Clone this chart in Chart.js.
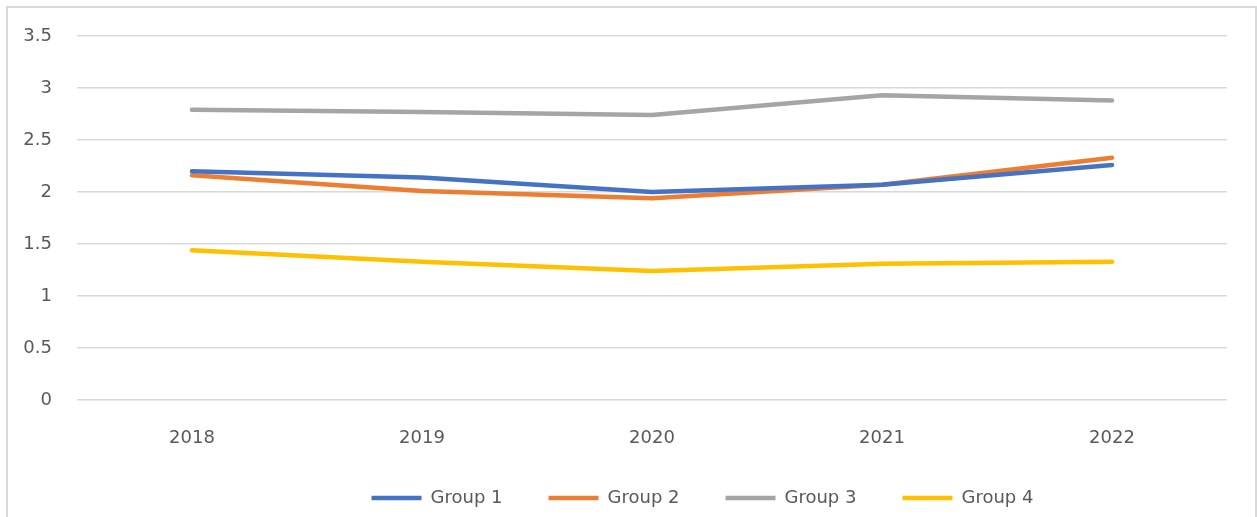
<!DOCTYPE html>
<html>
<head>
<meta charset="utf-8">
<script src="https://cdn.jsdelivr.net/npm/chart.js@4/dist/chart.umd.min.js"></script>
<style>
  html, body { margin: 0; padding: 0; background: #fff; }
  #wrap { width: 1257px; height: 517px; }
</style>
</head>
<body>
<div id="wrap"><canvas id="groupChart" width="1257" height="517"></canvas></div>
<script>
const years = ['2018', '2019', '2020', '2021', '2022'];
const group1 = [2.2, 2.14, 2.0, 2.07, 2.26];
const group2 = [2.16, 2.01, 1.94, 2.07, 2.33];
const group3 = [2.79, 2.77, 2.74, 2.93, 2.88];
const group4 = [1.44, 1.33, 1.24, 1.31, 1.33];
const groupNames = ['Group 1', 'Group 2', 'Group 3', 'Group 4'];
const groupColors = ['#4472C4', '#ED7D31', '#A5A5A5', '#FFC000'];
const yTickLabels = ['0', '0.5', '1', '1.5', '2', '2.5', '3', '3.5'];

const textColor = '#595959';
const gridColor = '#d9d9d9';
const font = { family: 'DejaVu Sans', size: 18 };

// light frame around the whole chart, open at the bottom
const framePlugin = {
  id: 'frame',
  beforeDraw(chart) {
    const ctx = chart.ctx;
    ctx.save();
    ctx.strokeStyle = gridColor;
    ctx.lineWidth = 2;
    ctx.strokeRect(7, 7, 1249, 530);
    ctx.restore();
  }
};

// nudge the legend row to the right of centre
const legendShift = {
  id: 'legendShift',
  afterLayout(chart) {
    const lg = chart.legend;
    if (!lg) return;
    lg.left += 89;
    lg.right += 89;
  }
};

const datasets = [group1, group2, group3, group4].map((vals, i) => ({
  label: groupNames[i],
  data: vals,
  borderColor: groupColors[i],
  backgroundColor: groupColors[i],
  borderWidth: 4.5,
  borderCapStyle: 'round',
  borderJoinStyle: 'round',
  pointRadius: 0,
  pointHoverRadius: 0,
  tension: 0,
  fill: false
}));

new Chart(document.getElementById('groupChart').getContext('2d'), {
  type: 'line',
  data: { labels: years, datasets: datasets },
  plugins: [framePlugin, legendShift],
  options: {
    responsive: false,
    animation: false,
    layout: { padding: { top: 36, left: 0, right: 30, bottom: 0 } },
    plugins: {
      title: { display: false },
      tooltip: { enabled: false },
      legend: {
        position: 'bottom',
        labels: {
          color: textColor,
          font: font,
          usePointStyle: true,
          pointStyle: 'line',
          pointStyleWidth: 50,
          boxHeight: 18,
          padding: 46
        }
      }
    },
    scales: {
      x: {
        offset: true,
        grid: { display: false },
        border: { display: false },
        ticks: { color: textColor, font: font, padding: 20 },
        afterFit(scale) { scale.height = 43; }
      },
      y: {
        min: 0,
        max: 3.5,
        ticks: {
          stepSize: 0.5,
          color: textColor,
          font: font,
          padding: 25,
          callback: (v, i) => yTickLabels[i]
        },
        grid: { color: gridColor, lineWidth: 1.5, drawTicks: false },
        border: { display: false },
        afterFit(scale) { scale.width = 77; }
      }
    }
  }
});
</script>
</body>
</html>
